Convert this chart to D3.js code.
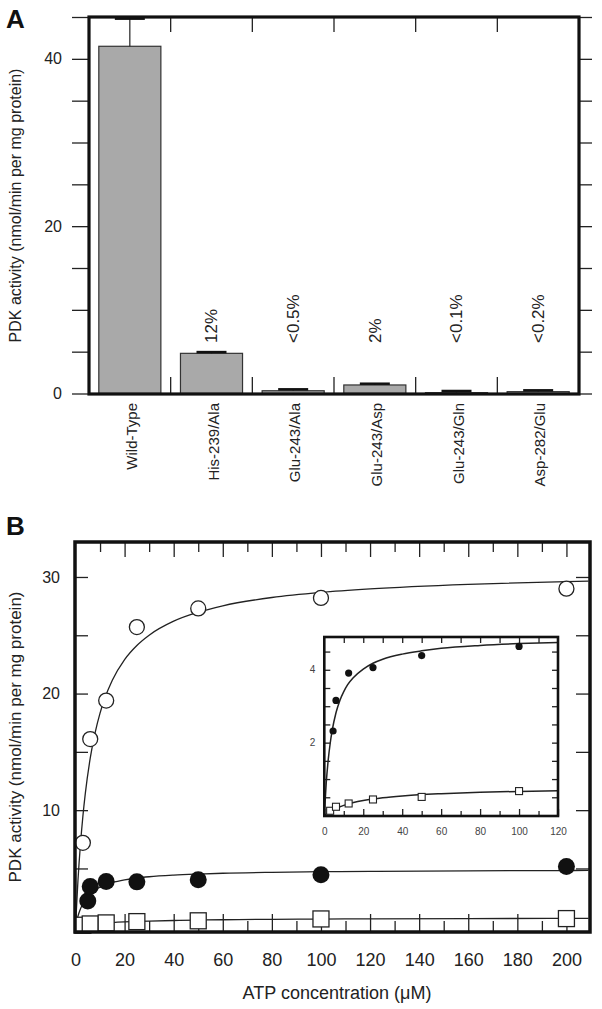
<!DOCTYPE html>
<html>
<head>
<meta charset="utf-8">
<script src="https://cdn.jsdelivr.net/npm/d3@7"></script>
<style>
  body { margin: 0; background: #fff; }
  text { font-family: "Liberation Sans", Arial, sans-serif; fill: #222; }
  .axis path { display: none; }
  .axis line { stroke: #222; stroke-width: 1.3; }
  .inset text { fill: #444; }
</style>
</head>
<body>
<script>
// panel A: PDK activity of wild-type and mutants
var mutants = ["Wild-Type", "His-239/Ala", "Glu-243/Ala", "Glu-243/Asp", "Glu-243/Gln", "Asp-282/Glu"];
var activity = [41.5, 4.8, 0.33, 1.02, 0.1, 0.22];
var activityTop = [44.8, 4.95, 0.5, 1.17, 0.3, 0.38];   // mean + error
var percent = ["", "12%", "<0.5%", "2%", "<0.1%", "<0.2%"];

// panel B: rate vs ATP concentration (main plot)
var atpOpen = [3, 6, 12.5, 25, 50, 100, 200];
var rateOpen = [7.2, 16.1, 19.4, 25.7, 27.3, 28.2, 29.0];
var atpFilled = [5, 6, 12.5, 25, 50, 100, 200];
var rateFilled = [2.2, 3.45, 3.88, 3.85, 4.03, 4.46, 5.17];
var atpSquare = [3, 6, 12.5, 25, 50, 100, 200];
var rateSquare = [0.13, 0.24, 0.33, 0.44, 0.51, 0.67, 0.7];

// inset
var insetAtp = [4.5, 6, 12.5, 25, 50, 100];
var insetFilled = [2.32, 3.16, 3.91, 4.06, 4.39, 4.64];
var insetSqAtp = [3, 6, 12.5, 25, 50, 100];
var insetSquare = [0.13, 0.24, 0.33, 0.44, 0.51, 0.67];

// fitted curves
var fitAtp = [0, 1, 2, 3, 4, 6, 8, 10, 12, 15, 20, 25, 30, 40, 50, 60, 80, 100, 120, 160, 200, 209];
var fitOpen = [0, 3.97, 7.03, 9.46, 11.44, 14.46, 16.65, 18.32, 19.64, 21.15, 22.92, 24.13, 25.01, 26.21, 26.98, 27.53, 28.24, 28.68, 28.98, 29.37, 29.61, 29.65];
var fitFilled = [0, 0.9, 1.52, 1.97, 2.32, 2.82, 3.16, 3.4, 3.59, 3.79, 4.02, 4.18, 4.29, 4.43, 4.52, 4.59, 4.67, 4.72, 4.75, 4.8, 4.82, 4.83];
var fitSquare = [0, 0.041, 0.078, 0.111, 0.142, 0.195, 0.24, 0.279, 0.312, 0.355, 0.41, 0.453, 0.488, 0.538, 0.574, 0.6, 0.637, 0.661, 0.678, 0.701, 0.716, 0.719];

var svg = d3.select("body").append("svg")
  .attr("width", 602)
  .attr("height", 1009);

// ---------- panel A ----------
var aL = 89, aR = 579, aT = 17, aB = 394;
var xA = d3.scaleBand().domain(mutants).range([aL, aR]).paddingInner(0.24).paddingOuter(0.12);
var yA = d3.scaleLinear().domain([0, 45]).range([393.5, aT]);

svg.append("g")
  .attr("class", "axis")
  .attr("transform", "translate(" + [aL - 1, 0] + ")")
  .call(d3.axisLeft(yA).tickValues(d3.range(0, 46, 5)).tickSize(16).tickPadding(10)
    .tickFormat(function(d) { return d % 20 === 0 ? d : ""; }))
  .selectAll("text").style("font-size", "16px");

svg.append("g")
  .attr("class", "axis")
  .attr("transform", "translate(" + [aR + 1, 0] + ")")
  .call(d3.axisRight(yA).tickValues(d3.range(0, 46, 5)).tickSize(12).tickFormat(""));

// separators between categories, top and bottom, pointing inward
var gap = (xA.step() - xA.bandwidth()) / 2;
var seps = mutants.slice(1).map(function(d) { return xA(d) - gap; });
svg.selectAll(".sepTop").data(seps).enter().append("line")
  .attr("x1", function(d) { return d; }).attr("x2", function(d) { return d; })
  .attr("y1", aT).attr("y2", aT + 15)
  .attr("stroke", "#222").attr("stroke-width", 1.3);
svg.selectAll(".sepBot").data(seps).enter().append("line")
  .attr("x1", function(d) { return d; }).attr("x2", function(d) { return d; })
  .attr("y1", aB).attr("y2", aB - 17)
  .attr("stroke", "#222").attr("stroke-width", 1.3);

// bars
svg.selectAll(".bar").data(mutants).enter().append("rect")
  .attr("x", function(d) { return xA(d); })
  .attr("y", function(d, i) { return yA(activity[i]); })
  .attr("width", xA.bandwidth())
  .attr("height", function(d, i) { return yA(0) - yA(activity[i]); })
  .attr("fill", "#a9a9a9")
  .attr("stroke", "#333")
  .attr("stroke-width", 1.2);

// error bars
svg.selectAll(".err").data(mutants).enter().append("line")
  .attr("x1", function(d) { return xA(d) + xA.bandwidth() / 2; })
  .attr("x2", function(d) { return xA(d) + xA.bandwidth() / 2; })
  .attr("y1", function(d, i) { return yA(activity[i]); })
  .attr("y2", function(d, i) { return yA(activityTop[i]); })
  .attr("stroke", "#222").attr("stroke-width", 1.2);
svg.selectAll(".cap").data(mutants).enter().append("line")
  .attr("x1", function(d) { return xA(d) + xA.bandwidth() / 2 - 15; })
  .attr("x2", function(d) { return xA(d) + xA.bandwidth() / 2 + 15; })
  .attr("y1", function(d, i) { return yA(activityTop[i]); })
  .attr("y2", function(d, i) { return yA(activityTop[i]); })
  .attr("stroke", "#111").attr("stroke-width", 2.5);

// frame
svg.append("rect")
  .attr("x", aL).attr("y", aT)
  .attr("width", aR - aL).attr("height", aB - aT)
  .attr("fill", "none").attr("stroke", "#111").attr("stroke-width", 3.2);

// percent labels
svg.selectAll(".pct").data(mutants).enter().append("text")
  .attr("transform", function(d) { return "translate(" + [xA(d) + xA.bandwidth() / 2, 343] + ") rotate(-90)"; })
  .attr("dy", "0.35em")
  .style("font-size", "17px")
  .text(function(d, i) { return percent[i]; });

// category labels
svg.selectAll(".cat").data(mutants).enter().append("text")
  .attr("transform", function(d) { return "translate(" + [xA(d) + xA.bandwidth() / 2 + 2, 403] + ") rotate(-90)"; })
  .attr("dy", "0.35em")
  .attr("text-anchor", "end")
  .style("font-size", "15px")
  .text(function(d) { return d; });

svg.append("text")
  .attr("transform", "translate(21," + (aT + aB) / 2 + ") rotate(-90)")
  .attr("text-anchor", "middle")
  .style("font-size", "16px")
  .text("PDK activity (nmol/min per mg protein)");

svg.append("text").attr("x", 6).attr("y", 28)
  .style("font-size", "26px").style("font-weight", "bold").style("fill", "#111")
  .text("A");

// ---------- panel B ----------
var bL = 75, bR = 590, bT = 542, bB = 932;
var xB = d3.scaleLinear().domain([0, 209.6]).range([75.5, bR]);
var yB = d3.scaleLinear().domain([-0.45, 33]).range([bB, bT]);

svg.append("g")
  .attr("class", "axis")
  .attr("transform", "translate(" + [bL, 0] + ")")
  .call(d3.axisLeft(yB).tickValues(d3.range(5, 31, 5)).tickSize(-13).tickPadding(15)
    .tickFormat(function(d) { return d % 10 === 0 ? d : ""; }))
  .selectAll("text").style("font-size", "16px");

svg.append("g")
  .attr("class", "axis")
  .attr("transform", "translate(" + [bR, 0] + ")")
  .call(d3.axisRight(yB).tickValues(d3.range(5, 31, 5)).tickSize(-14).tickFormat(""));

svg.append("g")
  .attr("class", "axis")
  .attr("transform", "translate(" + [0, bB] + ")")
  .call(d3.axisBottom(xB).tickValues(d3.range(0, 201, 20)).tickSize(-18).tickPadding(21))
  .selectAll("text").style("font-size", "18px");
svg.append("g")
  .attr("class", "axis")
  .attr("transform", "translate(" + [0, bB] + ")")
  .call(d3.axisBottom(xB).tickValues(d3.range(10, 201, 20)).tickSize(-11).tickFormat(""));

svg.append("g")
  .attr("class", "axis")
  .attr("transform", "translate(" + [0, bT] + ")")
  .call(d3.axisTop(xB).tickValues(d3.range(20, 201, 20)).tickSize(-15).tickFormat(""));
svg.append("g")
  .attr("class", "axis")
  .attr("transform", "translate(" + [0, bT] + ")")
  .call(d3.axisTop(xB).tickValues(d3.range(10, 201, 20)).tickSize(-10).tickFormat(""));

var lineB = function(ys) {
  return d3.line()
    .x(function(d, i) { return xB(fitAtp[i]); })
    .y(function(d) { return yB(d); })
    .curve(d3.curveMonotoneX)(ys);
};
[fitOpen, fitFilled, fitSquare].forEach(function(ys) {
  svg.append("path")
    .attr("d", lineB(ys))
    .attr("fill", "none").attr("stroke", "#222").attr("stroke-width", 1.3);
});

svg.selectAll(".sq").data(atpSquare).enter().append("rect")
  .attr("x", function(d) { return xB(d) - 8; })
  .attr("y", function(d, i) { return yB(rateSquare[i]) - 8; })
  .attr("width", 16).attr("height", 16)
  .attr("fill", "#fff").attr("stroke", "#222").attr("stroke-width", 1.3);

svg.selectAll(".fc").data(atpFilled).enter().append("circle")
  .attr("cx", function(d) { return xB(d); })
  .attr("cy", function(d, i) { return yB(rateFilled[i]); })
  .attr("r", 8.5)
  .attr("fill", "#111");

svg.selectAll(".oc").data(atpOpen).enter().append("circle")
  .attr("cx", function(d) { return xB(d); })
  .attr("cy", function(d, i) { return yB(rateOpen[i]); })
  .attr("r", 7.5)
  .attr("fill", "#fff").attr("stroke", "#222").attr("stroke-width", 1.3);

svg.append("rect")
  .attr("x", bL).attr("y", bT)
  .attr("width", bR - bL).attr("height", bB - bT)
  .attr("fill", "none").attr("stroke", "#111").attr("stroke-width", 3.5);

svg.append("text")
  .attr("transform", "translate(21," + (bT + bB) / 2 + ") rotate(-90)")
  .attr("text-anchor", "middle")
  .style("font-size", "17px")
  .text("PDK activity (nmol/min per mg protein)");

svg.append("text")
  .attr("x", 337).attr("y", 999)
  .attr("text-anchor", "middle")
  .style("font-size", "18px")
  .text("ATP concentration (\u03bcM)");

svg.append("text").attr("x", 6).attr("y", 535)
  .style("font-size", "26px").style("font-weight", "bold").style("fill", "#111")
  .text("B");

// ---------- inset ----------
var iL = 324.3, iR = 558, iT = 637, iB = 816;
var xI = d3.scaleLinear().domain([0, 120]).range([iL, iR]);
var yI = d3.scaleLinear().domain([0, 4.9]).range([815.5, iT]);
var inset = svg.append("g").attr("class", "inset");

inset.append("rect")
  .attr("x", iL).attr("y", iT)
  .attr("width", iR - iL).attr("height", iB - iT)
  .attr("fill", "#fff");

inset.append("g")
  .attr("class", "axis")
  .attr("transform", "translate(" + [iL, 0] + ")")
  .call(d3.axisLeft(yI).tickValues(d3.range(0.5, 4.9, 0.5)).tickSize(-6).tickPadding(9)
    .tickFormat(function(d) { return d === 2 || d === 4 ? d : ""; }))
  .selectAll("text").style("font-size", "10px");
inset.append("g")
  .attr("class", "axis")
  .attr("transform", "translate(" + [iR, 0] + ")")
  .call(d3.axisRight(yI).tickValues(d3.range(0.5, 4.9, 0.5)).tickSize(-6).tickFormat(""));
inset.append("g")
  .attr("class", "axis")
  .attr("transform", "translate(" + [0, iB] + ")")
  .call(d3.axisBottom(xI).tickValues(d3.range(0, 121, 20)).tickSize(-7).tickPadding(12))
  .selectAll("text").style("font-size", "10px");
inset.append("g")
  .attr("class", "axis")
  .attr("transform", "translate(" + [0, iB] + ")")
  .call(d3.axisBottom(xI).tickValues(d3.range(10, 120, 20)).tickSize(-5).tickFormat(""));
inset.append("g")
  .attr("class", "axis")
  .attr("transform", "translate(" + [0, iT] + ")")
  .call(d3.axisTop(xI).tickValues(d3.range(10, 120, 10)).tickSize(-6).tickFormat(""));
inset.selectAll(".axis line").attr("stroke-width", 1);

var lineI = function(ys) {
  var pts = [];
  fitAtp.forEach(function(x, i) { if (x <= 120) pts.push([x, ys[i]]); });
  return d3.line()
    .x(function(d) { return xI(d[0]); })
    .y(function(d) { return yI(d[1]); })
    .curve(d3.curveMonotoneX)(pts);
};
[fitFilled, fitSquare].forEach(function(ys) {
  inset.append("path")
    .attr("d", lineI(ys))
    .attr("fill", "none").attr("stroke", "#222").attr("stroke-width", 1.5);
});

inset.selectAll(".isq").data(insetSqAtp).enter().append("rect")
  .attr("x", function(d) { return xI(d) - 3.5; })
  .attr("y", function(d, i) { return yI(insetSquare[i]) - 3.5; })
  .attr("width", 7).attr("height", 7)
  .attr("fill", "#fff").attr("stroke", "#222").attr("stroke-width", 1.1);

inset.selectAll(".ifc").data(insetAtp).enter().append("circle")
  .attr("cx", function(d) { return xI(d); })
  .attr("cy", function(d, i) { return yI(insetFilled[i]); })
  .attr("r", 3.6)
  .attr("fill", "#111");

inset.append("rect")
  .attr("x", iL).attr("y", iT)
  .attr("width", iR - iL).attr("height", iB - iT)
  .attr("fill", "none").attr("stroke", "#111").attr("stroke-width", 2.6);
</script>
</body>
</html>
